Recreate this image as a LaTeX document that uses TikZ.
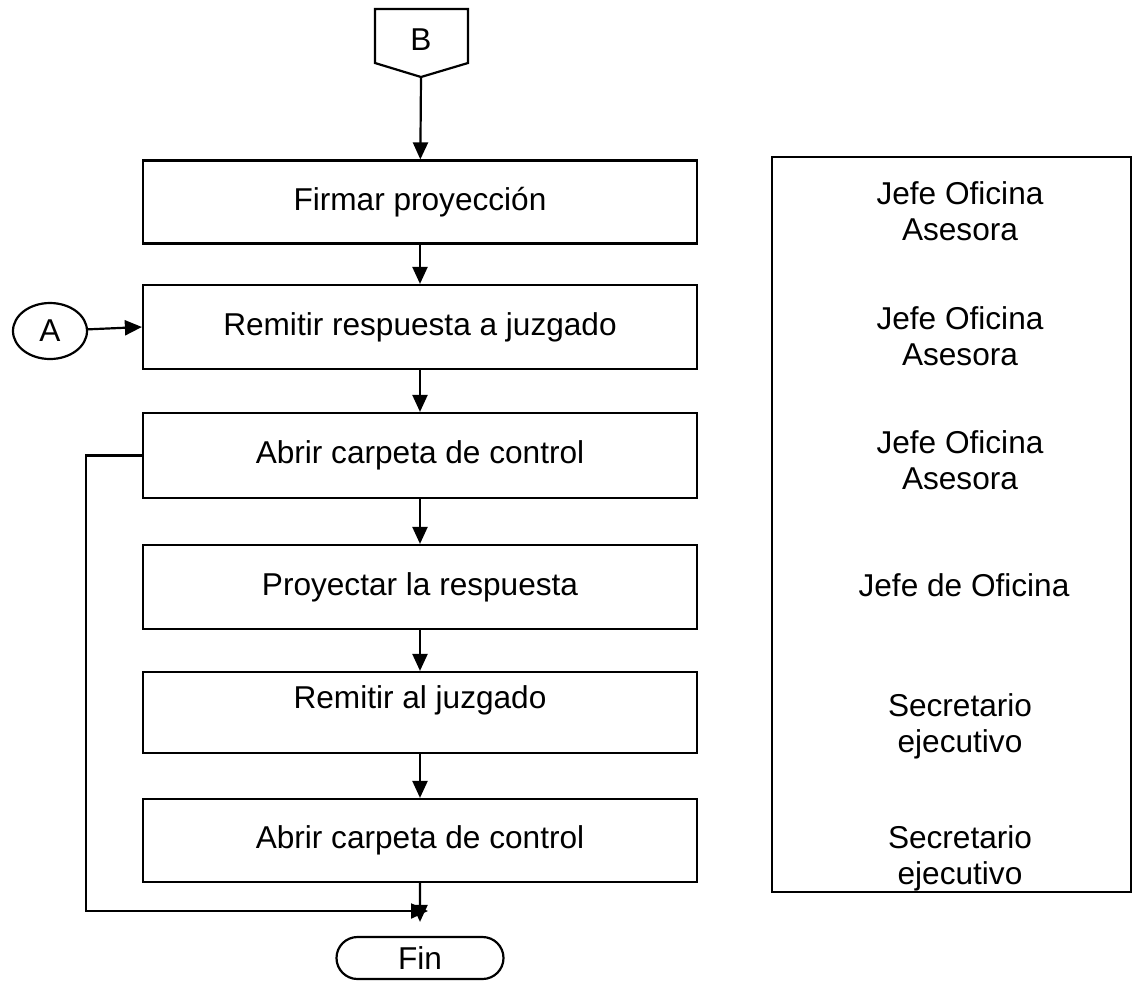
\documentclass[tikz,border=0pt]{standalone}
\usepackage{fontspec}
\setmainfont{Liberation Sans}
\usetikzlibrary{arrows.meta,positioning,shapes.geometric,shapes.misc}
\tikzset{
    proc/.style={draw, line width=2.2pt, minimum width=554pt, minimum height=83pt, inner sep=0pt},
    role/.style={align=center},
    flow/.style={line width=2.2pt, -{Triangle[width=15pt,length=17pt]}},
}
\begin{document}
\begin{tikzpicture}[x=1pt, y=-1pt, font=\fontsize{31.6}{36}\selectfont]
    \useasboundingbox (0,0) rectangle (1138,989);
    % off-page connector
    \draw[line width=2.2pt] (375,9) -- (468,9) -- (468,63) -- (421,77) -- (375,63) -- cycle;
    \node (B) at (421,40) {B};
    \coordinate (Btip) at (421,77);
    % activities
    \node[proc] (box1) at (420,202) {Firmar proyección};
    \node[proc, minimum height=84pt] (box2) at (420,327) {Remitir respuesta a juzgado};
    \node[proc, minimum height=85pt] (box3) at (420,455.5) {Abrir carpeta de control};
    \node[proc, minimum height=84pt] (box4) at (420,587) {Proyectar la respuesta};
    \node[proc, minimum height=81pt, label={[yshift=12pt]center:Remitir al juzgado}] (box5) at (420,712.5) {};
    \node[proc] (box6) at (420,840.5) {Abrir carpeta de control};
    \node[draw, ellipse, line width=2.2pt, minimum width=74pt, minimum height=56pt, inner sep=0pt] (A) at (50,331) {A};
    \node[draw, rounded rectangle, line width=2.2pt, minimum width=167pt, minimum height=42pt, inner sep=0pt] (fin) at (420,958) {Fin};
    \coordinate (merge) at (428,911);
    % arrows
    \draw[flow] (Btip) -- (box1);
    \foreach \a/\b in {box1/box2,box2/box3,box3/box4,box4/box5,box5/box6}{
        \draw[flow] (\a) -- (\b);
    }
    \draw[flow, shorten >=14pt] (box6) -- (fin);
    \draw[flow] (A) -- (box2.west);
    \draw[flow] (box3.west) -- ++(-56,0) |- (merge);
    % responsibles
    \node[draw, line width=2.2pt, minimum width=359pt, minimum height=735pt, inner sep=0pt] (roles) at (951.5,524.5) {};
    \node[role] (r1) at (960,211) {Jefe Oficina\\ Asesora};
    \node[role] (r2) at (960,336) {Jefe Oficina\\ Asesora};
    \node[role] (r3) at (960,460) {Jefe Oficina\\ Asesora};
    \node[role] (r4) at (964,585) {Jefe de Oficina};
    \node[role] (r5) at (960,726) {Secretario\\ ejecutivo};
    \node[role] (r6) at (960,858) {Secretario\\ ejecutivo};
\end{tikzpicture}
\end{document}
